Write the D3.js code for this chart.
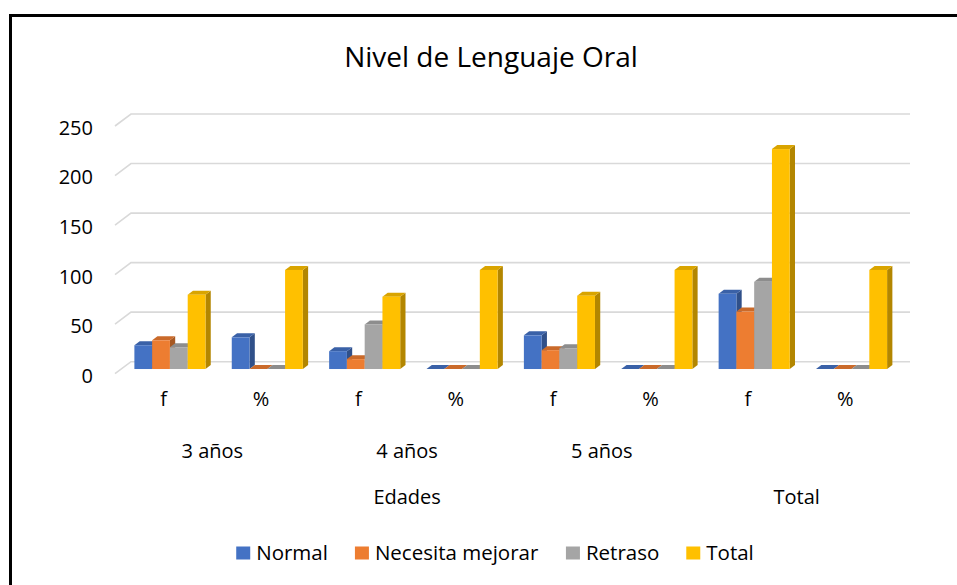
<!DOCTYPE html>
<html lang="es">
<head>
<meta charset="utf-8">
<title>Nivel de Lenguaje Oral</title>
<script src="https://d3js.org/d3.v7.min.js"></script>
<style>
  body { margin: 0; background: #fff; }
  text { font-family: "Open Sans", "Noto Sans", sans-serif; fill: #000; }
  .axis path, .axis line { display: none; }
</style>
</head>
<body>
<script>
// data
var categories = ["f", "%", "f", "%", "f", "%", "f", "%"];
var ageGroups = ["3 años", "4 años", "5 años", ""];      // each spans 2 categories
var topGroups = [{name: "Edades", from: 0, to: 5}, {name: "Total", from: 6, to: 7}];
var seriesNames = ["Normal", "Necesita mejorar", "Retraso", "Total"];
var normal   = [24, 32, 18, 0, 34, 0, 76, 0];
var necesita = [29, 0, 10, 0, 19, 0, 58, 0];
var retraso  = [22, 0, 45, 0, 21, 0, 88, 0];
var total    = [75, 100, 73, 100, 74, 100, 222, 100];
var yTicks = [0, 50, 100, 150, 200, 250];

var colors = ["#4472C4", "#ED7D31", "#A5A5A5", "#FFC000"];
var seriesValues = [normal, necesita, retraso, total];

var W = 957, H = 585;
var svg = d3.select("body").append("svg").attr("width", W).attr("height", H);

// outer frame (runs off the right/bottom edge in the original)
svg.append("rect")
  .attr("x", 10.5).attr("y", 15.5).attr("width", 1000).attr("height", 700)
  .attr("fill", "none").attr("stroke", "#000").attr("stroke-width", 3);

svg.append("text")
  .attr("x", 491).attr("y", 67)
  .attr("text-anchor", "middle")
  .style("font-size", "28px")
  .text("Nivel de Lenguaje Oral");

// scales (back wall plane)
var x0 = d3.scaleBand().domain(d3.range(categories.length))
  .range([131, 910]).paddingInner(0.27).paddingOuter(0.135);
var x1 = d3.scaleBand().domain(d3.range(seriesNames.length)).range([0, x0.bandwidth()]);
var y = d3.scaleLinear().domain([0, 250]).range([361.7, 114]);

// oblique depth: z=0 back wall, z=1 front edge of floor
var DX = -16, DY = 12;
function off(z) { return [DX * z, DY * z]; }

// gridlines on back wall + left wall
var grid = svg.append("g").attr("stroke", "#D9D9D9").attr("stroke-width", 1.6).attr("fill", "none");
yTicks.forEach(function(t) {
  var f = off(1);
  grid.append("path")
    .attr("d", "M" + (131 + f[0]) + "," + (y(t) + f[1]) + "L131," + y(t) + "L910," + y(t));
});

// y labels
svg.append("g").attr("class", "axis")
  .attr("transform", "translate(101,14)")
  .call(d3.axisLeft(y).tickValues(yTicks).tickSize(0).tickPadding(8))
  .selectAll("text").style("font-size", "20px").attr("fill", "#000");

// bars
var zf = 0.61, zb = 0.28;
var fo = off(zf), bo = off(zb);
var bars = svg.append("g");
categories.forEach(function(c, i) {
  seriesValues.forEach(function(vals, k) {
    var v = vals[i];
    var xl = x0(i) + x1(k), bw = x1.bandwidth();
    var yt = y(v), yb = y(0);
    var base = d3.color(colors[k]);
    var side = [[xl + bw + fo[0], yt + fo[1]], [xl + bw + bo[0], yt + bo[1]],
                [xl + bw + bo[0], yb + bo[1]], [xl + bw + fo[0], yb + fo[1]]];
    var top = [[xl + fo[0], yt + fo[1]], [xl + bw + fo[0], yt + fo[1]],
               [xl + bw + bo[0], yt + bo[1]], [xl + bo[0], yt + bo[1]]];
    bars.append("polygon").attr("points", side.join(" ")).attr("fill", base.darker(1.0));
    bars.append("polygon").attr("points", top.join(" ")).attr("fill", base.darker(0.45));
    bars.append("rect")
      .attr("x", xl + fo[0]).attr("y", yt + fo[1])
      .attr("width", bw).attr("height", yb - yt)
      .attr("fill", colors[k]);
  });
});

// category labels (front edge of floor)
var ff = off(1);
function catX(i) { return x0(i) + x0.bandwidth() / 2 + ff[0]; }

svg.append("g").attr("class", "axis")
  .attr("transform", "translate(" + ff[0] + ",392)")
  .call(d3.axisBottom(x0).tickSize(0).tickPadding(0).tickFormat(function(i) { return categories[i]; }))
  .selectAll("text").style("font-size", "20px").attr("fill", "#000");

svg.append("g").selectAll("text").data(ageGroups).join("text")
  .attr("x", function(d, g) { return (catX(2 * g) + catX(2 * g + 1)) / 2; })
  .attr("y", 451).attr("dy", "0.35em")
  .attr("text-anchor", "middle").style("font-size", "20px")
  .text(function(d) { return d; });

svg.append("g").selectAll("text").data(topGroups).join("text")
  .attr("x", function(d) { return (catX(d.from) + catX(d.to)) / 2; })
  .attr("y", 497).attr("dy", "0.35em")
  .attr("text-anchor", "middle").style("font-size", "20px")
  .text(function(d) { return d.name; });

// legend
var leg = svg.append("g");
var items = leg.selectAll("g").data(seriesNames).join("g");
items.append("rect").attr("width", 14).attr("height", 13).attr("y", -6.5)
  .attr("fill", function(d, k) { return colors[k]; });
items.append("text").attr("x", 20).attr("dy", "0.35em").style("font-size", "20.5px")
  .text(function(d) { return d; });
var xpos = 0, widths = [];
items.each(function() { widths.push(this.getBBox().width); });
var totalW = d3.sum(widths) + 27 * (widths.length - 1);
xpos = 495 - totalW / 2;
items.attr("transform", function(d, k) {
  var t = "translate(" + xpos + ",553)";
  xpos += widths[k] + 27;
  return t;
});
</script>
</body>
</html>
